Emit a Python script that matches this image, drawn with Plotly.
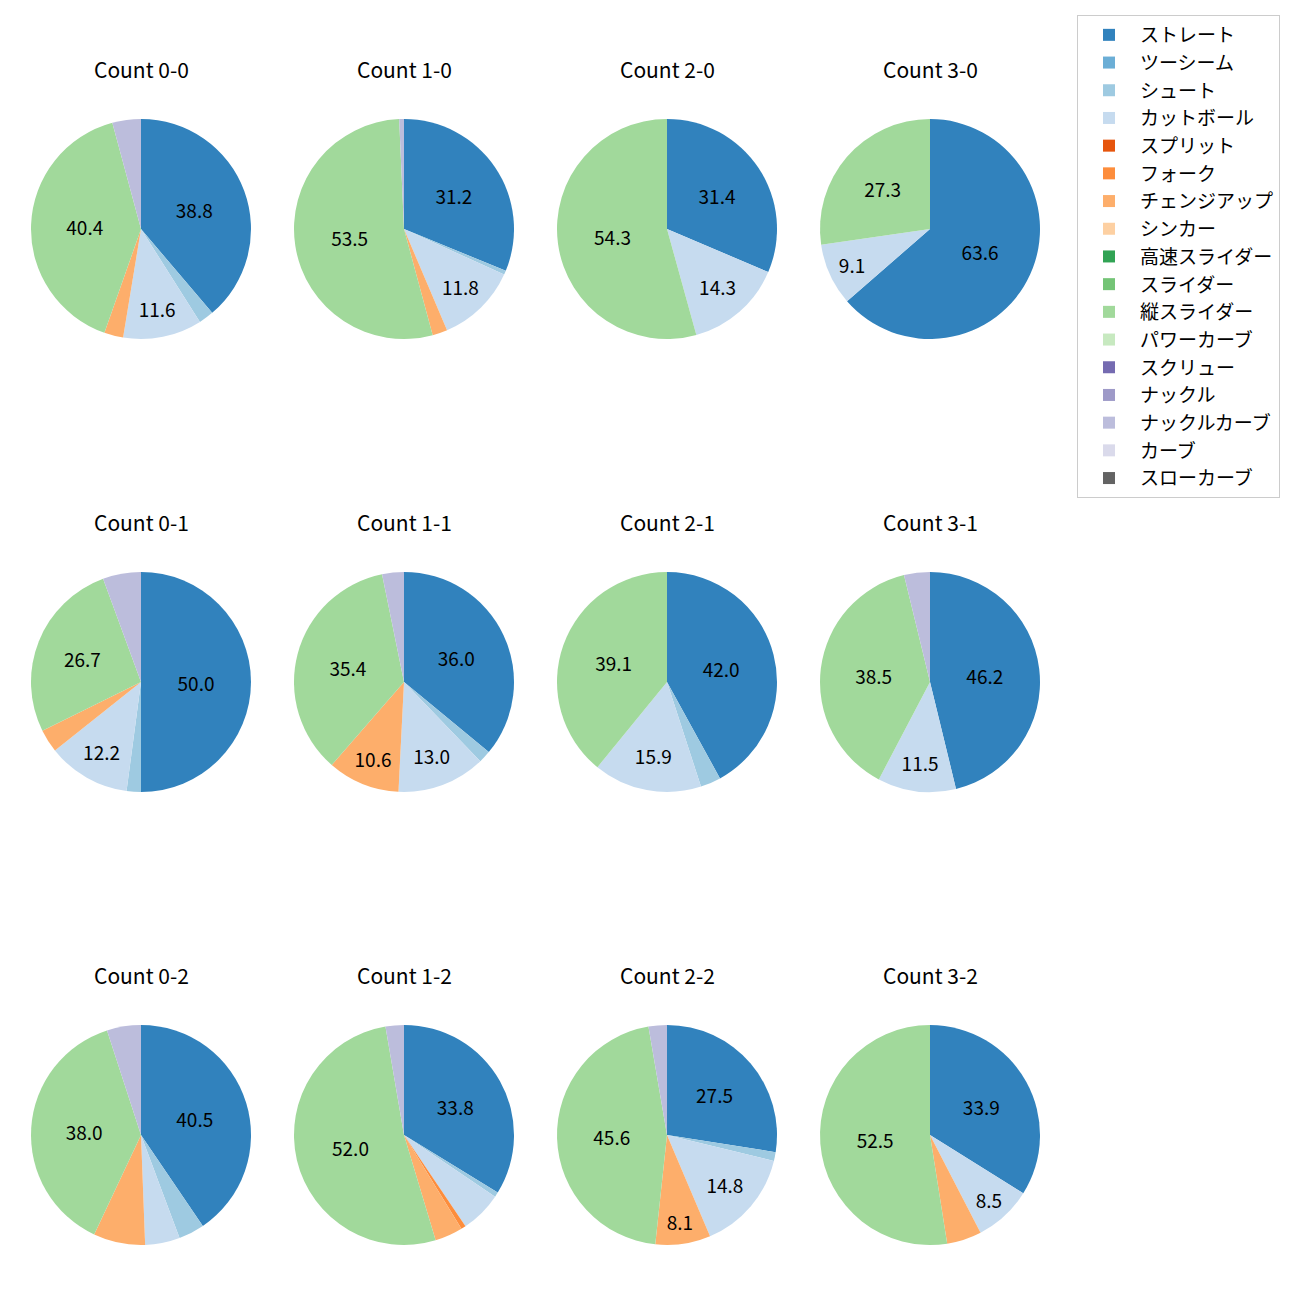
import plotly.graph_objects as go

categories = ["ストレート", "ツーシーム", "シュート", "カットボール", "スプリット", "フォーク",
              "チェンジアップ", "シンカー", "高速スライダー", "スライダー", "縦スライダー",
              "パワーカーブ", "スクリュー", "ナックル", "ナックルカーブ", "カーブ", "スローカーブ"]
colors = ["#3182bd", "#6baed6", "#9ecae1", "#c6dbef", "#e6550d", "#fd8d3c", "#fdae6b", "#fdd0a2",
          "#31a354", "#74c476", "#a1d99b", "#c7e9c0", "#756bb1", "#9e9ac8", "#bcbddc", "#dadaeb", "#636363"]

counts = ["0-0", "1-0", "2-0", "3-0",
          "0-1", "1-1", "2-1", "3-1",
          "0-2", "1-2", "2-2", "3-2"]

# percentages per count, in category order
v00 = [38.8, 0, 2.2, 11.6, 0, 0, 2.8, 0, 0, 0, 40.4, 0, 0, 0, 4.2, 0, 0]
v10 = [31.2, 0, 0.6, 11.8, 0, 0, 2.2, 0, 0, 0, 53.5, 0, 0, 0, 0.7, 0, 0]
v20 = [31.4, 0, 0, 14.3, 0, 0, 0, 0, 0, 0, 54.3, 0, 0, 0, 0, 0, 0]
v30 = [63.6, 0, 0, 9.1, 0, 0, 0, 0, 0, 0, 27.3, 0, 0, 0, 0, 0, 0]
v01 = [50.0, 0, 2.1, 12.2, 0, 0, 3.4, 0, 0, 0, 26.7, 0, 0, 0, 5.6, 0, 0]
v11 = [36.0, 0, 1.8, 13.0, 0, 0, 10.6, 0, 0, 0, 35.4, 0, 0, 0, 3.2, 0, 0]
v21 = [42.0, 0, 3.0, 15.9, 0, 0, 0, 0, 0, 0, 39.1, 0, 0, 0, 0, 0, 0]
v31 = [46.2, 0, 0, 11.5, 0, 0, 0, 0, 0, 0, 38.5, 0, 0, 0, 3.8, 0, 0]
v02 = [40.5, 0, 3.8, 5.1, 0, 0, 7.6, 0, 0, 0, 38.0, 0, 0, 0, 5.0, 0, 0]
v12 = [33.8, 0, 0.7, 6.1, 0, 0.7, 4.1, 0, 0, 0, 52.0, 0, 0, 0, 2.7, 0, 0]
v22 = [27.5, 0, 1.3, 14.8, 0, 0, 8.1, 0, 0, 0, 45.6, 0, 0, 0, 2.7, 0, 0]
v32 = [33.9, 0, 0, 8.5, 0, 0, 5.1, 0, 0, 0, 52.5, 0, 0, 0, 0, 0, 0]

all_values = [v00, v10, v20, v30, v01, v11, v21, v31, v02, v12, v22, v32]

W, H = 1300, 1300
OFF = 8  # page body margin
col_cx = [141, 404, 667, 930]
row_cy = [229, 682, 1135]
R = 110
title_dy = 160

FONT = "Noto Sans CJK JP"

fig = go.Figure()
annotations = []
for i, (cnt, vals) in enumerate(zip(counts, all_values)):
    r, c = divmod(i, 4)
    cx, cy = col_cx[c] - OFF, row_cy[r] - OFF
    dom_x = [(cx - R) / W, (cx + R) / W]
    dom_y = [1 - (cy + R) / H, 1 - (cy - R) / H]
    texts = [f"{v:.1f}" if v >= 8 else "" for v in vals]
    fig.add_trace(go.Pie(
        labels=categories, values=vals, text=texts,
        textinfo="text", textposition="inside", insidetextorientation="horizontal",
        textfont=dict(color="black", size=19, family=FONT),
        marker=dict(colors=colors, line=dict(width=0)),
        sort=False, direction="clockwise", rotation=0,
        domain=dict(x=dom_x, y=dom_y), showlegend=(i == 0),
        hoverinfo="label+percent",
    ))
    annotations.append(dict(
        text=f"Count {cnt}", x=cx / W, y=1 - (cy - title_dy) / H,
        xref="paper", yref="paper", showarrow=False,
        xanchor="center", yanchor="middle",
        font=dict(size=21, family=FONT, color="black"),
    ))

fig.update_layout(
    width=W, height=H, autosize=False,
    margin=dict(l=0, r=0, t=0, b=0),
    paper_bgcolor="white", plot_bgcolor="white",
    annotations=annotations,
    font=dict(family=FONT),
    legend=dict(
        x=(1077 - OFF) / W, y=1 - (15 - OFF) / H, xanchor="left", yanchor="top",
        bordercolor="#cccccc", borderwidth=1, bgcolor="white",
        font=dict(size=19, family=FONT, color="black"),
        traceorder="normal", itemwidth=52,
    ),
)

fig.write_html("out.html")
